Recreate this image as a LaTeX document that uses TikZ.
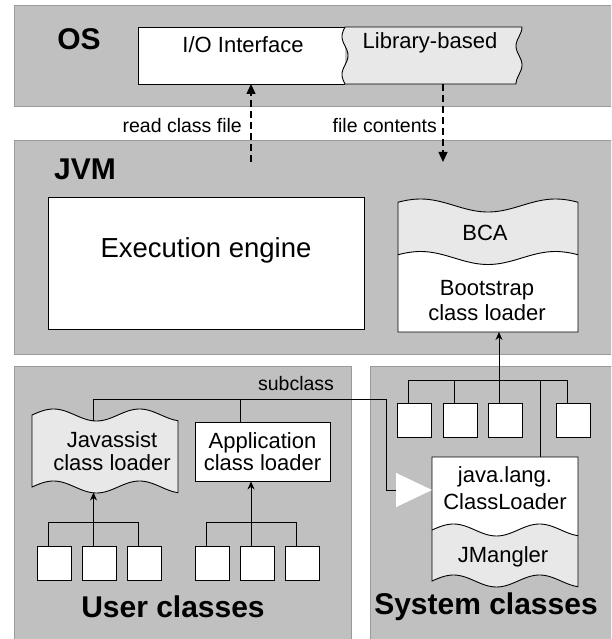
\documentclass[tikz,border=0pt]{standalone}
\usepackage{fontspec}
\setmainfont{Liberation Sans}
\usetikzlibrary{arrows.meta}
\definecolor{panelgray}{HTML}{C0C0C0}
\definecolor{panelline}{HTML}{9A9A9A}
\definecolor{paleshade}{HTML}{E8E8E8}
% wave offsets for the torn-paper shapes (divide first to keep numbers small)
\pgfmathdeclarefunction{wbca}{1}{\pgfmathparse{6.5*sin(30+(#1-398)/180*480)}}
\pgfmathdeclarefunction{wjas}{1}{\pgfmathparse{6*sin((#1-32)/86*360)}}
\pgfmathdeclarefunction{wcl}{1}{\pgfmathparse{6*sin((#1-432)/86*360)}}
\pgfmathdeclarefunction{wlib}{1}{\pgfmathparse{3*sin((#1-27)/38*360)}}
\pgfmathdeclarefunction{wlibr}{1}{\pgfmathparse{3*cos((#1-27)/38*360)}}
\begin{document}
\begin{tikzpicture}[x=1pt,y=-1pt,
  panel/.style={draw=panelline, fill=panelgray, line width=0.9pt, inner sep=0pt, anchor=north west},
  title/.style={font=\fontsize{30}{32}\selectfont\bfseries, inner sep=0pt},
  lbl/.style={font=\fontsize{22}{25}\selectfont, align=center, inner sep=0pt},
  note/.style={font=\fontsize{19.5}{22}\selectfont, inner sep=0pt},
  box/.style={draw, fill=white, line width=0.9pt, inner sep=0pt},
  cls/.style={box, minimum width=34pt, minimum height=34pt},
  outline/.style={draw, line width=0.9pt},
  tree/.style={line width=1pt},
  dataflow/.style={line width=1.3pt, dash pattern=on 7pt off 4pt, -{Triangle[length=10pt,width=9pt]}},
  up/.style={line width=1pt, -{Stealth[length=8pt,width=7pt]}},
]
\useasboundingbox (0,0) rectangle (611,639);
\clip (0,0) rectangle (611,639);

% ---- layers ----
\node[panel, minimum width=606pt, minimum height=101pt] (ospanel) at (14,5) {};
\node[panel, minimum width=606pt, minimum height=214pt] (jvmpanel) at (14,140) {};
\node[panel, minimum width=337pt, minimum height=280pt] (userpanel) at (14,366) {};
\node[panel, minimum width=250pt, minimum height=280pt] (syspanel) at (370,366) {};

% ---- OS ----
\draw[box] (345,27) -- (138,27) -- (138,84) -- (345,84);
\path[outline, fill=paleshade]
  plot[domain=27:84, samples=40] ({345-wlib(\x)}, \x)
  -- plot[domain=84:27, samples=40] ({519+wlibr(\x)}, \x) -- cycle;
\coordinate (io-bot) at (251,84);
\coordinate (lib-bot) at (443,84);
\node[title] (os) at (79,39) {OS};
\node[lbl] (io) at (243,45) {I/O Interface};
\node[lbl] (lib) at (430,43) {Library-based};

% ---- JVM ----
\node[title] (jvm) at (85,169) {JVM};
\node[box, anchor=north west, minimum width=316pt, minimum height=132pt] (exec) at (48,197) {};
\node[font=\fontsize{27.5}{30}\selectfont, inner sep=0pt] (exectext) at (206,250) {Execution engine};

\fill[white] plot[domain=398:578, samples=60] (\x, {205.5-wbca(\x)}) -- (578,332) -- (398,332) -- cycle;
\fill[paleshade] plot[domain=398:578, samples=60] (\x, {205.5-wbca(\x)})
  -- plot[domain=578:398, samples=60] (\x, {258-wbca(\x)}) -- cycle;
\draw[line width=0.9pt] plot[domain=398:578, samples=60] (\x, {258-wbca(\x)});
\draw[line width=0.9pt] plot[domain=398:578, samples=60] (\x, {205.5-wbca(\x)}) -- (578,332) -- (398,332) -- cycle;
\node[lbl] (bca) at (485,233) {BCA};
\node[lbl] (boot) at (487,300.5) {Bootstrap\\class loader};
\coordinate (bca-bot) at (499,332);

% reading a class file through the OS
\coordinate (read-start) at (251,162);
\coordinate (contents-end) at (443,162);
\draw[dataflow] (read-start) -- (io-bot);
\draw[dataflow] (lib-bot) -- (contents-end);
\node[note, anchor=east] (readlbl) at (242,126) {read class file};
\node[note, anchor=east] (contentslbl) at (437,126) {file contents};

% ---- user classes ----
\path[outline, fill=paleshade]
  plot[domain=32:178, samples=60] (\x, {415-wjas(\x)})
  -- plot[domain=178:32, samples=60] (\x, {487-wjas(\x)}) -- cycle;
\node[lbl, font=\fontsize{22}{23}\selectfont] (jas) at (112,451.5) {Javassist\\class loader};
\coordinate (jas-top) at (93,420.8);
\coordinate (jas-bot) at (93.5,492.5);

\node[box, lbl, font=\fontsize{22}{22.5}\selectfont, minimum width=135pt, minimum height=59pt] (app) at (262.5,451.5) {Application\\class loader};

\node[cls] (u1) at (54,563) {};
\node[cls] (u2) at (99.5,563) {};
\node[cls] (u3) at (144.5,563) {};
\node[cls] (u4) at (212,563) {};
\node[cls] (u5) at (257,563) {};
\node[cls] (u6) at (302.5,563) {};

\draw[tree] ([xshift=-6pt]u1.north) -- ++(0,-23) -| ([xshift=-6pt]u3.north);
\draw[up] ([xshift=-6pt]u2.north) -- (jas-bot);
\draw[tree] ([xshift=-6pt]u4.north) -- ++(0,-23) -| ([xshift=-6pt]u6.north);
\draw[up] ([xshift=-6pt]u5.north) -- ([xshift=-6pt]u5.north |- app.south);

\node[title] (usertitle) at (173,607) {User classes};

% ---- system classes ----
\node[cls] (s1) at (414.5,420) {};
\node[cls] (s2) at (460,420) {};
\node[cls] (s3) at (505,420) {};
\node[cls] (s4) at (573,420) {};

\fill[white] (432,457) -- (578,457) -- plot[domain=578:432, samples=60] (\x, {581-wcl(\x)}) -- cycle;
\fill[paleshade] plot[domain=432:578, samples=60] (\x, {530-wcl(\x)})
  -- plot[domain=578:432, samples=60] (\x, {581-wcl(\x)}) -- cycle;
\draw[line width=0.9pt] plot[domain=432:578, samples=60] (\x, {530-wcl(\x)});
\draw[line width=0.9pt] (432,457) -- (578,457) -- plot[domain=578:432, samples=60] (\x, {581-wcl(\x)}) -- cycle;
\coordinate (cl-top) at (540,457);
\coordinate (cl-west) at (432,490);
\node[lbl, font=\fontsize{22}{27}\selectfont] (cl) at (505,488.5) {java.lang.\\ClassLoader};
\node[lbl] (jm) at (503,557) {JMangler};

\draw[tree] ([xshift=-6pt]s1.north) -- ++(0,-22) -| ([xshift=-6pt]s4.north);
\draw[tree] ([xshift=-6pt]s2.north) -- ++(0,-22);
\draw[up] ([xshift=-6pt]s3.north) -- (bca-bot);
\draw[tree] (cl-top) -- ([yshift=22pt]cl-top |- s1.north);

\node[title] (systitle) at (486,607) {System classes};

% ---- subclass relation ----
\coordinate (sub-turn) at (386,399);
\draw[tree] ([xshift=-22.5pt]app.north) -- ++(0,-23);
\draw[tree, -{Triangle[length=36pt,width=34pt,color=white,fill=white]}] (jas-top) |- (sub-turn) |- (cl-west);
\node[note] (subclass) at (296,384) {subclass};
\end{tikzpicture}
\end{document}
